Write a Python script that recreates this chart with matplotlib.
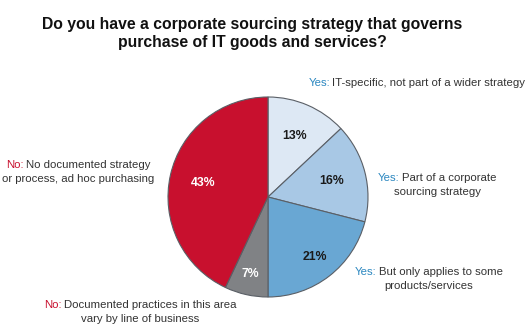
import matplotlib
matplotlib.use("Agg")
import matplotlib.pyplot as plt
import numpy as np

plt.rcParams['font.family'] = ['Liberation Sans', 'DejaVu Sans']

title = "Do you have a corporate sourcing strategy that governs\npurchase of IT goods and services?"
shares = [13, 16, 21, 7, 43]
colors = ['#dde8f4', '#a8c8e5', '#69a7d3', '#808285', '#c8102e']
pct_colors = ['#1a1a1a', '#1a1a1a', '#1a1a1a', 'white', 'white']
prefixes = ['Yes:', 'Yes:', 'Yes:', 'No:', 'No:']
label_lines = [
    ["IT-specific, not part of a wider strategy"],
    ["Part of a corporate", "sourcing strategy"],
    ["But only applies to some", "products/services"],
    ["Documented practices in this area", "vary by line of business"],
    ["No documented strategy", "or process, ad hoc purchasing"],
]
prefix_colors = {'Yes:': '#2b87c0', 'No:': '#c8102e'}

W, H = 530, 327
fig = plt.figure(figsize=(W / 100, H / 100), dpi=100)
fig.patch.set_facecolor('white')

cx, cy, r = 268, 197, 101
ax = fig.add_axes([(cx - r) / W, (H - cy - r) / H, 2 * r / W, 2 * r / H])
wedges, _ = ax.pie(shares, colors=colors, startangle=90, counterclock=False,
                   wedgeprops=dict(edgecolor='#5a5f66', linewidth=0.8))
ax.set_xlim(-1.01, 1.01)
ax.set_ylim(-1.01, 1.01)
ax.set_aspect('equal')
ax.axis('off')

dists = [0.67, 0.66, 0.76, 0.79, 0.66]
for w, s, d, c in zip(wedges, shares, dists, pct_colors):
    ang = np.deg2rad((w.theta1 + w.theta2) / 2)
    ax.text(d * np.cos(ang), d * np.sin(ang), f"{s}%", ha='center', va='center',
            fontsize=8.8, fontweight='bold', color=c)

fig.text(0.476, 1 - 33.5 / H, title, ha='center', va='center', fontsize=11.3,
         fontweight='bold', color='#111111', linespacing=1.2)

fig.canvas.draw()
renderer = fig.canvas.get_renderer()
fs = 8.2


def width(s):
    t = fig.text(0, 0, s, fontsize=fs, transform=None)
    bb = t.get_window_extent(renderer)
    t.remove()
    return bb.width


# label centres in pixel coords (x, y from top of first line)
label_pos = [(417, 83), (437, 178), (429, 272), (140, 305), (78, 165)]
line_gap = 14
gap = 2
for pre, lines, (lx, ly) in zip(prefixes, label_lines, label_pos):
    wp = width(pre)
    wf = wp + gap + width(lines[0])
    x0 = lx - wf / 2
    y = H - ly
    fig.text(x0, y, pre, fontsize=fs, color=prefix_colors[pre], va='center',
             ha='left', transform=None)
    fig.text(x0 + wp + gap, y, lines[0], fontsize=fs, color='#333333',
             va='center', ha='left', transform=None)
    for k, ln in enumerate(lines[1:], start=1):
        fig.text(lx, y - k * line_gap, ln, fontsize=fs, color='#333333',
                 va='center', ha='center', transform=None)

fig.savefig('out.png', dpi=100, facecolor='white')
